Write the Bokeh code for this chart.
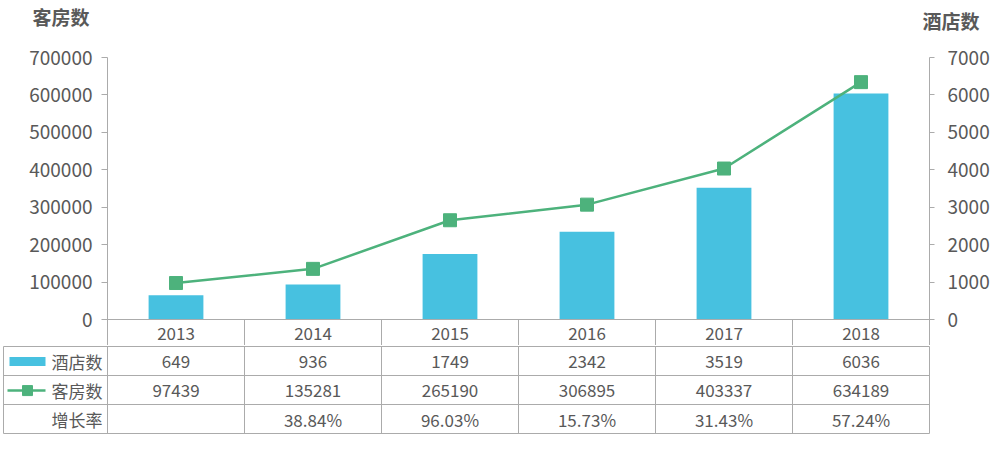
from bokeh.plotting import figure
from bokeh.models import Range1d, LinearAxis, FixedTicker, Span, NumeralTickFormatter
from bokeh.layouts import column
from bokeh.embed import file_html
from bokeh.resources import INLINE
from bokeh.core.properties import value

# ---------------- data ----------------
years = ["2013", "2014", "2015", "2016", "2017", "2018"]
hotels = [649, 936, 1749, 2342, 3519, 6036]              # 酒店数 (bars, right axis)
rooms = [97439, 135281, 265190, 306895, 403337, 634189]  # 客房数 (line, left axis)
growth = ["", "38.84%", "96.03%", "15.73%", "31.43%", "57.24%"]  # 增长率
left_ticks = [0, 100000, 200000, 300000, 400000, 500000, 600000, 700000]
right_ticks = [0, 1000, 2000, 3000, 4000, 5000, 6000, 7000]
row_labels = ["酒店数", "客房数", "增长率"]
left_title = "客房数"
right_title = "酒店数"

# ---------------- style ----------------
FONT = "Noto Sans CJK SC"
TXT = "#595959"
BAR = "#47C1E0"
LINE = "#4DB27C"
GRID = "#ABABAB"

COLW = 137.0                     # pixel width of one year column
xs = list(range(len(years)))
xl = -0.5 - 107 / COLW           # canvas left edge in category units
xr = 5.5 + 71 / COLW             # canvas right edge in category units


def clean(fig):
    fig.outline_line_color = None
    fig.background_fill_color = "white"
    fig.border_fill_color = "white"
    fig.grid.grid_line_color = None
    fig.frame_align = False
    return fig


# ---------------- header with axis titles ----------------
h = clean(figure(frame_width=1000, frame_height=40, min_border=0,
                 x_range=Range1d(xl, xr), y_range=Range1d(40, 0),
                 x_axis_location=None, y_axis_location=None,
                 output_backend="svg", toolbar_location=None))
h.text(x=[-0.5 - 75 / COLW, 5.5 - 7 / COLW], y=[15.5, 20], text=[left_title, right_title],
       text_align="left", text_baseline="middle", text_font=value(FONT),
       text_font_size="19px", text_font_style="bold", text_color=TXT)

# ---------------- chart ----------------
unit = 700000 / 262.0          # data units per pixel on the left axis
y_bottom = -26 * unit          # header row (years) below 0

p = clean(figure(frame_width=822, frame_height=288,
                 min_border_left=107, min_border_right=71, min_border_top=17, min_border_bottom=0,
                 x_range=Range1d(-0.5, 5.5), y_range=Range1d(y_bottom, 700000),
                 x_axis_location=None, y_axis_location=None,
                 output_backend="svg", toolbar_location=None))
p.extra_y_ranges = {"hotels": Range1d(y_bottom / 100.0, 7000)}

left_axis = LinearAxis(ticker=FixedTicker(ticks=left_ticks),
                       formatter=NumeralTickFormatter(format="0"))
right_axis = LinearAxis(y_range_name="hotels", ticker=FixedTicker(ticks=right_ticks),
                        formatter=NumeralTickFormatter(format="0"))
for ax, standoff, tout in ((left_axis, 9, 6), (right_axis, 13, 5)):
    ax.axis_line_color = GRID
    ax.major_tick_line_color = GRID
    ax.major_tick_out = tout
    ax.major_tick_in = 0
    ax.minor_tick_line_color = None
    ax.major_label_text_font = FONT
    ax.major_label_text_font_size = "19px"
    ax.major_label_text_color = TXT
    ax.major_label_standoff = standoff
p.add_layout(left_axis, "left")
p.add_layout(right_axis, "right")

# bars (hotels) on right axis
p.vbar(x=xs, top=hotels, width=0.4, y_range_name="hotels", fill_color=BAR, line_color=None)
# line (rooms) on left axis
p.line(x=xs, y=rooms, line_color=LINE, line_width=2.5)
p.scatter(x=xs, y=rooms, marker="square", size=13, fill_color=LINE, line_color=LINE)

# baseline and header row of the table
p.add_layout(Span(location=0, dimension="width", line_color=GRID, line_width=1))
inner = [i + 0.5 for i in xs[:-1]]
p.segment(x0=inner, y0=[0] * len(inner), x1=inner, y1=[y_bottom] * len(inner),
          line_color=GRID, line_width=1)
p.text(x=xs, y=[-14 * unit] * len(xs), text=years, text_align="center", text_baseline="middle",
       text_font=value(FONT), text_font_size="17px", text_color=TXT)

# ---------------- table rows ----------------
q = clean(figure(frame_width=1000, frame_height=100, min_border=0,
                 x_range=Range1d(xl, xr), y_range=Range1d(99 / 29.0, -1 / 29.0),
                 x_axis_location=None, y_axis_location=None,
                 output_backend="svg", toolbar_location=None))

x_left_border = -0.5 - 104 / COLW
q.segment(x0=[x_left_border] * 4, y0=[0, 1, 2, 3], x1=[5.5] * 4, y1=[0, 1, 2, 3],
          line_color=GRID, line_width=1)
vx = [x_left_border] + [i - 0.5 for i in range(len(years) + 1)]
q.segment(x0=vx, y0=[0] * len(vx), x1=vx, y1=[3] * len(vx), line_color=GRID, line_width=1)

rows = [[str(v) for v in hotels], [str(v) for v in rooms], growth]
for r, vals in enumerate(rows):
    q.text(x=xs, y=[r + 0.5] * len(xs), text=vals, text_align="center", text_baseline="middle",
           text_font=value(FONT), text_font_size="17px", text_color=TXT)
q.text(x=[-0.5 - 5 / COLW] * 3, y=[0.5, 1.5, 2.5], text=row_labels, text_align="right",
       text_baseline="middle", text_font=value(FONT), text_font_size="17px", text_color=TXT)

# legend icons
q.rect(x=[-0.5 - 80 / COLW], y=[0.52], width=36, height=9, width_units="screen",
       height_units="screen", fill_color=BAR, line_color=None)
q.segment(x0=[-0.5 - 100 / COLW], y0=[1.52], x1=[-0.5 - 62 / COLW], y1=[1.52],
          line_color=LINE, line_width=2.5)
q.scatter(x=[-0.5 - 80 / COLW], y=[1.52], marker="square", size=10, fill_color=LINE, line_color=LINE)

layout = column(h, p, q, spacing=0)
open("out.html", "w").write(file_html(layout, INLINE))
